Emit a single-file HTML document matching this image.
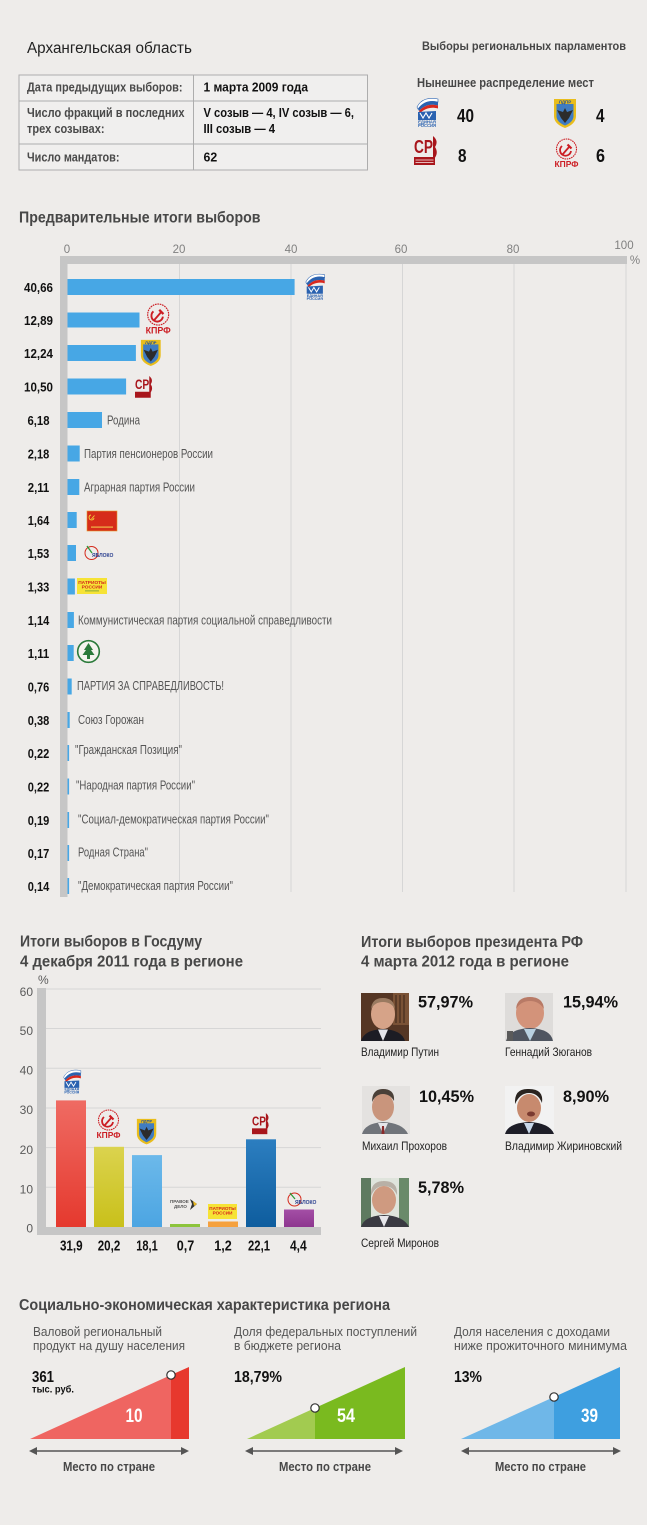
<!DOCTYPE html>
<html><head><meta charset="utf-8">
<style>
html,body{margin:0;padding:0;background:#fff}
svg{display:block}
text{font-family:"Liberation Sans","DejaVu Sans",sans-serif}
.h{font-weight:bold;font-size:16px;fill:#474747}
.l{font-size:12.5px;fill:#555}
.v{font-weight:bold;font-size:13px;fill:#111}
.ax{font-size:11.5px;fill:#808080}
.ty{font-size:12px;fill:#5a5a5a}
.dv{font-weight:bold;font-size:15px;fill:#111}
.pc{font-weight:bold;font-size:17px;fill:#111}
.nm{font-size:12px;fill:#222}
.sub{font-size:13px;fill:#555}
.mp{font-weight:bold;font-size:13px;fill:#474747}
</style></head><body>
<svg width="650" height="1529" viewBox="0 0 650 1529" xmlns="http://www.w3.org/2000/svg">
<defs>
<linearGradient id="g1" x1="0" y1="0" x2="0" y2="1"><stop offset="0" stop-color="#ef6b63"/><stop offset="1" stop-color="#e5392e"/></linearGradient>
<linearGradient id="g2" x1="0" y1="0" x2="0" y2="1"><stop offset="0" stop-color="#dbd34e"/><stop offset="1" stop-color="#c9c01a"/></linearGradient>
<linearGradient id="g3" x1="0" y1="0" x2="0" y2="1"><stop offset="0" stop-color="#6cb9ea"/><stop offset="1" stop-color="#4ca5e2"/></linearGradient>
<linearGradient id="g6" x1="0" y1="0" x2="0" y2="1"><stop offset="0" stop-color="#2c7ec0"/><stop offset="1" stop-color="#0e5d9e"/></linearGradient>
<linearGradient id="g7" x1="0" y1="0" x2="0" y2="1"><stop offset="0" stop-color="#a44fa6"/><stop offset="1" stop-color="#8d368f"/></linearGradient>
</defs>

<rect x="0" y="0" width="647" height="1525" fill="#eeecea"/>

<!-- ============ HEADER ============ -->
<text x="27" y="53" font-size="15.5" fill="#222" textLength="165" lengthAdjust="spacingAndGlyphs">Архангельская область</text>
<text x="422" y="50" font-size="12" font-weight="bold" fill="#464646" textLength="204" lengthAdjust="spacingAndGlyphs">Выборы региональных парламентов</text>

<rect x="19" y="75" width="348.5" height="95" fill="#f0efee" stroke="#adadad" stroke-width="1"/>
<line x1="19" y1="101" x2="367.5" y2="101" stroke="#adadad"/>
<line x1="19" y1="144" x2="367.5" y2="144" stroke="#adadad"/>
<line x1="193.5" y1="75" x2="193.5" y2="170" stroke="#adadad"/>
<g font-size="13">
<text x="27" y="91.5" font-weight="bold" fill="#4a4a4a" textLength="155.5" lengthAdjust="spacingAndGlyphs">Дата предыдущих выборов:</text>
<text x="203.5" y="91.5" font-weight="bold" fill="#111" textLength="104.5" lengthAdjust="spacingAndGlyphs">1 марта 2009 года</text>
<text x="27" y="117" font-weight="bold" fill="#4a4a4a" textLength="157.5" lengthAdjust="spacingAndGlyphs">Число фракций в последних</text>
<text x="27" y="133" font-weight="bold" fill="#4a4a4a" textLength="77.5" lengthAdjust="spacingAndGlyphs">трех созывах:</text>
<text x="203.5" y="117" font-weight="bold" fill="#111" textLength="150.5" lengthAdjust="spacingAndGlyphs">V созыв — 4, IV созыв — 6,</text>
<text x="203.5" y="133" font-weight="bold" fill="#111" textLength="71.5" lengthAdjust="spacingAndGlyphs">III созыв — 4</text>
<text x="27" y="161.5" font-weight="bold" fill="#4a4a4a" textLength="92.5" lengthAdjust="spacingAndGlyphs">Число мандатов:</text>
<text x="203.5" y="161.5" font-weight="bold" fill="#111" textLength="13.7" lengthAdjust="spacingAndGlyphs">62</text>
</g>

<text x="417" y="87" font-size="13" font-weight="bold" fill="#474747" textLength="177" lengthAdjust="spacingAndGlyphs">Нынешнее распределение мест</text>

<!-- ER logo -->
<g transform="translate(415,97)">
<path d="M2,10 C6,2 14,0 23,2 L23,5 C15,3 8,5 3,12 Z" fill="#fff" stroke="#2a62b0" stroke-width="0.6"/>
<path d="M3,12 C8,5 15,3 23,5 L23,8.5 C15,6.5 9,8.5 4,14 Z" fill="#2a62b0"/>
<path d="M4,14 C9,8.5 15,6.5 23,8.5 L23,11.5 C16,9.5 10,11.5 5,16 Z" fill="#d8281e"/>
<path d="M3,15 L21,14 L21,23 L3,23 Z" fill="#2a62b0"/>
<path d="M5,16 L8,21 L11,16 L14,21 L17,16" stroke="#fff" stroke-width="1.1" fill="none"/>
<text x="12" y="26.5" font-size="4.2" font-weight="bold" fill="#2a62b0" text-anchor="middle">ЕДИНАЯ</text>
<text x="12" y="30" font-size="4.2" font-weight="bold" fill="#2a62b0" text-anchor="middle">РОССИЯ</text>
</g>
<text x="457" y="122" font-size="18" font-weight="bold" fill="#111" textLength="17" lengthAdjust="spacingAndGlyphs">40</text>
<!-- LDPR -->
<g transform="translate(553,98)">
<path d="M1,1 H23 V18 Q23,26 12,30 Q1,26 1,18 Z" fill="#e9bd1c"/>
<path d="M3.5,6 H20.5 V18 Q20.5,24 12,27.5 Q3.5,24 3.5,18 Z" fill="#3f7cc2"/>
<path d="M4,12 L10,14 L12,10 L14,14 L20,12 L16,20 L12,25 L8,20 Z" fill="#2c2c2c"/>
<text x="12" y="5.3" font-size="4.5" font-weight="bold" fill="#1d4d9a" text-anchor="middle">ЛДПР</text>
</g>
<text x="596" y="122" font-size="18" font-weight="bold" fill="#111" textLength="8.5" lengthAdjust="spacingAndGlyphs">4</text>
<!-- SR -->
<g transform="translate(414,136)">
<text x="0" y="17" font-size="18" font-weight="bold" fill="#a8161c" textLength="19" lengthAdjust="spacingAndGlyphs">СР</text>
<path d="M19,0 Q25,5 21,11 Q25,17 20,23 L19,23 Z" fill="#a8161c"/>
<rect x="0" y="21" width="21" height="8" fill="#a8161c"/>
<rect x="1.5" y="23.5" width="18" height="1" fill="#e6b8b8"/>
<rect x="1.5" y="26" width="18" height="1" fill="#e6b8b8"/>
</g>
<text x="458" y="162" font-size="18" font-weight="bold" fill="#111" textLength="8.5" lengthAdjust="spacingAndGlyphs">8</text>
<!-- KPRF -->
<g transform="translate(553,138)">
<circle cx="13.5" cy="11" r="10" fill="none" stroke="#cc1e24" stroke-width="1.1" stroke-dasharray="1.6 0.7"/>
<path d="M9,8 A5.5,5.5 0 1 0 18,13" fill="none" stroke="#cc1e24" stroke-width="1.8"/>
<path d="M9.5,16.5 L16.5,8.5" stroke="#cc1e24" stroke-width="1.8"/>
<path d="M14.5,6.5 L18.5,10.5" stroke="#cc1e24" stroke-width="2.2"/>
<text x="13.5" y="29" font-size="8.5" font-weight="bold" fill="#cc1e24" text-anchor="middle" textLength="24" lengthAdjust="spacingAndGlyphs">КПРФ</text>
</g>
<text x="596" y="162" font-size="18" font-weight="bold" fill="#111" textLength="9" lengthAdjust="spacingAndGlyphs">6</text>

<!-- ============ PRELIMINARY RESULTS ============ -->
<text x="19" y="222.5" class="h" font-size="15.5" textLength="241.5" lengthAdjust="spacingAndGlyphs">Предварительные итоги выборов</text>

<g class="ax" text-anchor="middle">
<text x="67" y="253">0</text>
<text x="179" y="253">20</text>
<text x="291" y="253">40</text>
<text x="401" y="253">60</text>
<text x="513" y="253">80</text>
<text x="624" y="249">100</text>
<text x="635" y="264">%</text>
</g>

<g stroke="#d6d6d6" stroke-width="1">
<line x1="179.5" y1="264" x2="179.5" y2="892"/>
<line x1="291" y1="264" x2="291" y2="892"/>
<line x1="402.5" y1="264" x2="402.5" y2="892"/>
<line x1="514" y1="264" x2="514" y2="892"/>
<line x1="626" y1="264" x2="626" y2="892"/>
</g>
<rect x="60" y="256" width="567" height="8" fill="#c6c6c6"/>
<rect x="60" y="256" width="7.5" height="641" fill="#c6c6c6"/>

<g fill="#47a7e5">
<rect x="67.5" y="279" width="227.1" height="16"/>
<rect x="67.5" y="312.5" width="72" height="15"/>
<rect x="67.5" y="345" width="68.4" height="16"/>
<rect x="67.5" y="378.5" width="58.6" height="16"/>
<rect x="67.5" y="412" width="34.5" height="16"/>
<rect x="67.5" y="445.5" width="12.2" height="16"/>
<rect x="67.5" y="479" width="11.8" height="16"/>
<rect x="67.5" y="512" width="9.2" height="16"/>
<rect x="67.5" y="545" width="8.5" height="16"/>
<rect x="67.5" y="578.5" width="7.4" height="16"/>
<rect x="67.5" y="612" width="6.4" height="16"/>
<rect x="67.5" y="645" width="6.2" height="16"/>
<rect x="67.5" y="678.5" width="4.2" height="16"/>
<rect x="67.5" y="712" width="2.2" height="16"/>
<rect x="67.5" y="745" width="1.6" height="16"/>
<rect x="67.5" y="778.5" width="1.6" height="16"/>
<rect x="67.5" y="812" width="1.6" height="16"/>
<rect x="67.5" y="845" width="1.6" height="16"/>
<rect x="67.5" y="878" width="1.6" height="16"/>
</g>

<g class="v" text-anchor="middle">
<text x="38.5" y="292" textLength="29" lengthAdjust="spacingAndGlyphs">40,66</text>
<text x="38.5" y="325" textLength="29" lengthAdjust="spacingAndGlyphs">12,89</text>
<text x="38.5" y="358" textLength="29" lengthAdjust="spacingAndGlyphs">12,24</text>
<text x="38.5" y="391.5" textLength="29" lengthAdjust="spacingAndGlyphs">10,50</text>
<text x="38.5" y="425" textLength="22" lengthAdjust="spacingAndGlyphs">6,18</text>
<text x="38.5" y="458.5" textLength="21.5" lengthAdjust="spacingAndGlyphs">2,18</text>
<text x="38.5" y="492" textLength="21.5" lengthAdjust="spacingAndGlyphs">2,11</text>
<text x="38.5" y="525" textLength="21.5" lengthAdjust="spacingAndGlyphs">1,64</text>
<text x="38.5" y="558" textLength="21.5" lengthAdjust="spacingAndGlyphs">1,53</text>
<text x="38.5" y="591.5" textLength="21.5" lengthAdjust="spacingAndGlyphs">1,33</text>
<text x="38.5" y="625" textLength="21.5" lengthAdjust="spacingAndGlyphs">1,14</text>
<text x="38.5" y="658" textLength="21.5" lengthAdjust="spacingAndGlyphs">1,11</text>
<text x="38.5" y="691.5" textLength="21.5" lengthAdjust="spacingAndGlyphs">0,76</text>
<text x="38.5" y="725" textLength="21.5" lengthAdjust="spacingAndGlyphs">0,38</text>
<text x="38.5" y="758" textLength="21.5" lengthAdjust="spacingAndGlyphs">0,22</text>
<text x="38.5" y="791.5" textLength="21.5" lengthAdjust="spacingAndGlyphs">0,22</text>
<text x="38.5" y="825" textLength="21.5" lengthAdjust="spacingAndGlyphs">0,19</text>
<text x="38.5" y="858" textLength="21.5" lengthAdjust="spacingAndGlyphs">0,17</text>
<text x="38.5" y="891" textLength="21.5" lengthAdjust="spacingAndGlyphs">0,14</text>
</g>

<g class="l">
<text x="107" y="424.5" textLength="33" lengthAdjust="spacingAndGlyphs">Родина</text>
<text x="84" y="458" textLength="129" lengthAdjust="spacingAndGlyphs">Партия пенсионеров России</text>
<text x="84" y="491.5" textLength="111" lengthAdjust="spacingAndGlyphs">Аграрная партия России</text>
<text x="78" y="624.5" textLength="254" lengthAdjust="spacingAndGlyphs">Коммунистическая партия социальной справедливости</text>
<text x="77" y="690" textLength="147" lengthAdjust="spacingAndGlyphs">ПАРТИЯ ЗА СПРАВЕДЛИВОСТЬ!</text>
<text x="78" y="724" textLength="66" lengthAdjust="spacingAndGlyphs">Союз Горожан</text>
<text x="75" y="754" textLength="107" lengthAdjust="spacingAndGlyphs">"Гражданская Позиция"</text>
<text x="76" y="789.5" textLength="119" lengthAdjust="spacingAndGlyphs">"Народная партия России"</text>
<text x="78" y="823.5" textLength="191" lengthAdjust="spacingAndGlyphs">"Социал-демократическая партия России"</text>
<text x="78" y="856.5" textLength="70" lengthAdjust="spacingAndGlyphs">Родная Страна"</text>
<text x="78" y="890" textLength="155" lengthAdjust="spacingAndGlyphs">"Демократическая партия России"</text>
</g>

<g transform="translate(304,273) scale(0.9)">
<path d="M2,10 C6,2 14,0 23,2 L23,5 C15,3 8,5 3,12 Z" fill="#fff" stroke="#2a62b0" stroke-width="0.6"/>
<path d="M3,12 C8,5 15,3 23,5 L23,8.5 C15,6.5 9,8.5 4,14 Z" fill="#2a62b0"/>
<path d="M4,14 C9,8.5 15,6.5 23,8.5 L23,11.5 C16,9.5 10,11.5 5,16 Z" fill="#d8281e"/>
<path d="M3,15 L21,14 L21,23 L3,23 Z" fill="#2a62b0"/>
<path d="M5,16 L8,21 L11,16 L14,21 L17,16" stroke="#fff" stroke-width="1.1" fill="none"/>
<text x="12" y="26.5" font-size="4.2" font-weight="bold" fill="#2a62b0" text-anchor="middle">ЕДИНАЯ</text>
<text x="12" y="30" font-size="4.2" font-weight="bold" fill="#2a62b0" text-anchor="middle">РОССИЯ</text>
</g>
<g transform="translate(144,303) scale(1.05)">
<circle cx="13.5" cy="11" r="10" fill="none" stroke="#cc1e24" stroke-width="1.1" stroke-dasharray="1.6 0.7"/>
<path d="M9,8 A5.5,5.5 0 1 0 18,13" fill="none" stroke="#cc1e24" stroke-width="1.8"/>
<path d="M9.5,16.5 L16.5,8.5" stroke="#cc1e24" stroke-width="1.8"/>
<path d="M14.5,6.5 L18.5,10.5" stroke="#cc1e24" stroke-width="2.2"/>
<text x="13.5" y="29" font-size="8.5" font-weight="bold" fill="#cc1e24" text-anchor="middle" textLength="24" lengthAdjust="spacingAndGlyphs">КПРФ</text>
</g>
<g transform="translate(140,339) scale(0.9)">
<path d="M1,1 H23 V18 Q23,26 12,30 Q1,26 1,18 Z" fill="#e9bd1c"/>
<path d="M3.5,6 H20.5 V18 Q20.5,24 12,27.5 Q3.5,24 3.5,18 Z" fill="#3f7cc2"/>
<path d="M4,12 L10,14 L12,10 L14,14 L20,12 L16,20 L12,25 L8,20 Z" fill="#2c2c2c"/>
<text x="12" y="5.3" font-size="4.5" font-weight="bold" fill="#1d4d9a" text-anchor="middle">ЛДПР</text>
</g>
<g transform="translate(135,376) scale(0.75)">
<text x="0" y="17" font-size="18" font-weight="bold" fill="#a8161c" textLength="19" lengthAdjust="spacingAndGlyphs">СР</text>
<path d="M19,0 Q25,5 21,11 Q25,17 20,23 L19,23 Z" fill="#a8161c"/>
<rect x="0" y="21" width="21" height="8" fill="#a8161c"/>
</g>
<g transform="translate(87,511)">
<rect width="30" height="20" fill="#d62c1a" stroke="#e59a2a" stroke-width="0.6"/>
<path d="M4,4 A2.5,2.5 0 1 0 7,7 M4.5,8 L7.5,4.5" stroke="#f3d23a" stroke-width="0.9" fill="none"/>
<rect x="4" y="15.5" width="22" height="1.2" fill="#f0b94a"/>
</g>
<g transform="translate(84,545)">
<circle cx="7.5" cy="8" r="6.5" fill="none" stroke="#d42a1c" stroke-width="1"/>
<path d="M3,1 L8,8" stroke="#2e9b3a" stroke-width="1.3"/>
<text x="8" y="12" font-size="5" font-weight="bold" fill="#2a3f8f">ЯБЛОКО</text>
</g>
<g transform="translate(77,578)">
<rect width="30" height="16" fill="#f6e336"/>
<text x="15" y="6" font-size="4.8" font-weight="bold" fill="#d4251c" text-anchor="middle">ПАТРИОТЫ</text>
<text x="15" y="10.5" font-size="4.8" font-weight="bold" fill="#d4251c" text-anchor="middle">РОССИИ</text>
<rect x="8" y="12.5" width="14" height="0.8" fill="#6a9a3a"/>
</g>
<g transform="translate(77,640)">
<circle cx="11.5" cy="11.5" r="10.8" fill="#f4f4ee" stroke="#2a7a3a" stroke-width="1.6"/>
<path d="M11.5,3 L16,10 L14,10 L17.5,15 L13,15 L13,19 L10,19 L10,15 L5.5,15 L9,10 L7,10 Z" fill="#2a7a3a"/>
</g>

<!-- ============ DUMA ============ -->
<text x="20" y="946.5" class="h" textLength="182" lengthAdjust="spacingAndGlyphs">Итоги выборов в Госдуму</text>
<text x="20" y="966.5" class="h" textLength="223" lengthAdjust="spacingAndGlyphs">4 декабря 2011 года в регионе</text>

<text x="38" y="984" class="ty" font-size="11">%</text>
<g stroke="#d6d6d6" stroke-width="1">
<line x1="46" y1="989" x2="321" y2="989"/>
<line x1="46" y1="1028.5" x2="321" y2="1028.5"/>
<line x1="46" y1="1068.2" x2="321" y2="1068.2"/>
<line x1="46" y1="1108" x2="321" y2="1108"/>
<line x1="46" y1="1147.6" x2="321" y2="1147.6"/>
<line x1="46" y1="1187.3" x2="321" y2="1187.3"/>
</g>
<g class="ty" text-anchor="end">
<text x="33" y="996">60</text>
<text x="33" y="1035">50</text>
<text x="33" y="1074.5">40</text>
<text x="33" y="1114">30</text>
<text x="33" y="1154">20</text>
<text x="33" y="1193.5">10</text>
<text x="33" y="1232.5">0</text>
</g>
<rect x="37" y="988" width="9" height="247" fill="#c6c6c6"/>
<rect x="37" y="1227" width="284" height="8" fill="#c6c6c6"/>

<rect x="56" y="1100.4" width="30" height="126.6" fill="url(#g1)"/>
<rect x="94" y="1146.8" width="30" height="80.2" fill="url(#g2)"/>
<rect x="132" y="1155.1" width="30" height="71.9" fill="url(#g3)"/>
<rect x="170" y="1224" width="30" height="3" fill="#8cc43c"/>
<rect x="208" y="1221.5" width="30" height="5.5" fill="#f5a13e"/>
<rect x="246" y="1139.3" width="30" height="87.7" fill="url(#g6)"/>
<rect x="284" y="1209.5" width="30" height="17.5" fill="url(#g7)"/>

<g class="dv" text-anchor="middle">
<text x="71.3" y="1250.5" textLength="22.7" lengthAdjust="spacingAndGlyphs">31,9</text>
<text x="109" y="1250.5" textLength="22.5" lengthAdjust="spacingAndGlyphs">20,2</text>
<text x="147" y="1250.5" textLength="21.5" lengthAdjust="spacingAndGlyphs">18,1</text>
<text x="185.5" y="1250.5" textLength="17.5" lengthAdjust="spacingAndGlyphs">0,7</text>
<text x="223" y="1250.5" textLength="17.5" lengthAdjust="spacingAndGlyphs">1,2</text>
<text x="259" y="1250.5" textLength="22" lengthAdjust="spacingAndGlyphs">22,1</text>
<text x="298.3" y="1250.5" textLength="16.7" lengthAdjust="spacingAndGlyphs">4,4</text>
</g>

<g transform="translate(62,1069) scale(0.82)">
<path d="M2,10 C6,2 14,0 23,2 L23,5 C15,3 8,5 3,12 Z" fill="#fff" stroke="#2a62b0" stroke-width="0.6"/>
<path d="M3,12 C8,5 15,3 23,5 L23,8.5 C15,6.5 9,8.5 4,14 Z" fill="#2a62b0"/>
<path d="M4,14 C9,8.5 15,6.5 23,8.5 L23,11.5 C16,9.5 10,11.5 5,16 Z" fill="#d8281e"/>
<path d="M3,15 L21,14 L21,23 L3,23 Z" fill="#2a62b0"/>
<path d="M5,16 L8,21 L11,16 L14,21 L17,16" stroke="#fff" stroke-width="1.1" fill="none"/>
<text x="12" y="26.5" font-size="4.2" font-weight="bold" fill="#2a62b0" text-anchor="middle">ЕДИНАЯ</text>
<text x="12" y="30" font-size="4.2" font-weight="bold" fill="#2a62b0" text-anchor="middle">РОССИЯ</text>
</g>
<g transform="translate(95,1109)">
<circle cx="13.5" cy="11" r="10" fill="none" stroke="#cc1e24" stroke-width="1.1" stroke-dasharray="1.6 0.7"/>
<path d="M9,8 A5.5,5.5 0 1 0 18,13" fill="none" stroke="#cc1e24" stroke-width="1.8"/>
<path d="M9.5,16.5 L16.5,8.5" stroke="#cc1e24" stroke-width="1.8"/>
<path d="M14.5,6.5 L18.5,10.5" stroke="#cc1e24" stroke-width="2.2"/>
<text x="13.5" y="29" font-size="8.5" font-weight="bold" fill="#cc1e24" text-anchor="middle" textLength="24" lengthAdjust="spacingAndGlyphs">КПРФ</text>
</g>
<g transform="translate(136,1118) scale(0.88)">
<path d="M1,1 H23 V18 Q23,26 12,30 Q1,26 1,18 Z" fill="#e9bd1c"/>
<path d="M3.5,6 H20.5 V18 Q20.5,24 12,27.5 Q3.5,24 3.5,18 Z" fill="#3f7cc2"/>
<path d="M4,12 L10,14 L12,10 L14,14 L20,12 L16,20 L12,25 L8,20 Z" fill="#2c2c2c"/>
<text x="12" y="5.3" font-size="4.5" font-weight="bold" fill="#1d4d9a" text-anchor="middle">ЛДПР</text>
</g>
<g transform="translate(170,1198)">
<text x="0" y="5" font-size="4.5" font-weight="bold" fill="#555">ПРАВОЕ</text>
<text x="4" y="10" font-size="4.5" font-weight="bold" fill="#555">ДЕЛО</text>
<path d="M20,1 L27,6 L20,12 L22,6 Z" fill="#333"/>
<path d="M23,3 L27,6 L24,8" fill="#e8b820"/>
</g>
<g transform="translate(208,1204)">
<rect width="29" height="15" fill="#f6e336"/>
<text x="14.5" y="6" font-size="4.6" font-weight="bold" fill="#d4251c" text-anchor="middle">ПАТРИОТЫ</text>
<text x="14.5" y="10.5" font-size="4.6" font-weight="bold" fill="#d4251c" text-anchor="middle">РОССИИ</text>
</g>
<g transform="translate(252,1113) scale(0.73)">
<text x="0" y="17" font-size="18" font-weight="bold" fill="#a8161c" textLength="19" lengthAdjust="spacingAndGlyphs">СР</text>
<path d="M19,0 Q25,5 21,11 Q25,17 20,23 L19,23 Z" fill="#a8161c"/>
<rect x="0" y="21" width="21" height="8" fill="#a8161c"/>
</g>
<g transform="translate(287,1192)">
<circle cx="7.5" cy="7.5" r="6.5" fill="none" stroke="#d42a1c" stroke-width="1"/>
<path d="M3,1 L8,7" stroke="#2e9b3a" stroke-width="1.3"/>
<text x="8" y="12" font-size="5" font-weight="bold" fill="#2a3f8f">ЯБЛОКО</text>
</g>

<!-- ============ PRESIDENT ============ -->
<text x="361" y="947" class="h" textLength="222" lengthAdjust="spacingAndGlyphs">Итоги выборов президента РФ</text>
<text x="361" y="966.5" class="h" textLength="208" lengthAdjust="spacingAndGlyphs">4 марта 2012 года в регионе</text>

<g transform="translate(361,993)">
<rect width="48" height="48" fill="#553624"/>
<rect x="32" y="0" width="16" height="32" fill="#7a5236"/>
<path d="M35,2 V30 M39,2 V30 M43,2 V30" stroke="#3a2418" stroke-width="1"/>
<ellipse cx="22" cy="21" rx="12" ry="15" fill="#d6a388"/>
<path d="M10,16 Q11,5 22,5 Q33,5 34,16 Q30,9 22,9 Q14,9 10,16Z" fill="#9a7a60"/>
<path d="M0,48 Q3,37 22,36 Q41,37 44,48Z" fill="#1c1c24"/>
<path d="M17,36.5 L22,48 L27,36.5Z" fill="#e4e4ea"/>
</g>
<text x="418" y="1007.5" class="pc" textLength="55" lengthAdjust="spacingAndGlyphs">57,97%</text>
<text x="361" y="1056" class="nm" textLength="78" lengthAdjust="spacingAndGlyphs">Владимир Путин</text>

<g transform="translate(505,993)">
<rect width="48" height="48" fill="#dedcda"/>
<ellipse cx="25" cy="20" rx="14" ry="16" fill="#d3937a"/>
<path d="M11,16 Q12,4 25,4 Q38,4 39,16 Q34,8 25,8 Q16,8 11,16Z" fill="#b87a66"/>
<path d="M1,48 Q4,36 25,35 Q46,36 48,48Z" fill="#4f5560"/>
<path d="M19,36 L25,48 L31,36Z" fill="#b8d0e0"/>
<rect x="2" y="38" width="6" height="10" fill="#5a5a5a"/>
</g>
<text x="563" y="1007.5" class="pc" textLength="55" lengthAdjust="spacingAndGlyphs">15,94%</text>
<text x="505" y="1056" class="nm" textLength="87" lengthAdjust="spacingAndGlyphs">Геннадий Зюганов</text>

<g transform="translate(362,1086)">
<rect width="48" height="48" fill="#e4e2e0"/>
<ellipse cx="21" cy="21" rx="11" ry="14" fill="#c9957c"/>
<path d="M10,16 Q10,3 21,3 Q33,3 32,15 Q28,8 21,8 Q14,8 10,16Z" fill="#4a4038"/>
<path d="M0,48 Q3,37 21,36 Q41,37 46,48Z" fill="#70747a"/>
<path d="M16,37 L21,48 L26,37Z" fill="#e6e6ea"/>
<path d="M20,40 L22,40 L22.5,48 L19.5,48Z" fill="#8a2a2a"/>
</g>
<text x="419" y="1102" class="pc" textLength="55" lengthAdjust="spacingAndGlyphs">10,45%</text>
<text x="362" y="1150" class="nm" textLength="85" lengthAdjust="spacingAndGlyphs">Михаил Прохоров</text>

<g transform="translate(505,1086)">
<rect width="49" height="48" fill="#f2f2f2"/>
<ellipse cx="24" cy="22" rx="12" ry="14" fill="#c78a6e"/>
<path d="M10,18 Q9,2 24,3 Q39,3 37,17 Q33,7 24,7 Q15,7 10,18Z" fill="#2a2420"/>
<ellipse cx="26" cy="28" rx="4" ry="2.5" fill="#7a3a30"/>
<path d="M0,48 Q3,37 24,36 Q45,37 49,48Z" fill="#1e1e28"/>
<path d="M19,37 L24,48 L29,37Z" fill="#c8d8ea"/>
</g>
<text x="563" y="1102" class="pc" textLength="46" lengthAdjust="spacingAndGlyphs">8,90%</text>
<text x="505" y="1150" class="nm" textLength="117" lengthAdjust="spacingAndGlyphs">Владимир Жириновский</text>

<g transform="translate(361,1178)">
<rect width="48" height="49" fill="#dfe4dc"/>
<rect x="0" y="0" width="10" height="49" fill="#5e7a60"/>
<rect x="38" y="0" width="10" height="49" fill="#6a8a6a"/>
<ellipse cx="23" cy="22" rx="12" ry="14" fill="#cf9a80"/>
<path d="M10,18 Q9,3 23,3 Q37,3 36,17 Q32,8 23,8 Q14,8 10,18Z" fill="#b8b0a6"/>
<path d="M0,49 Q3,38 23,37 Q43,38 48,49Z" fill="#3a3a42"/>
<path d="M18,38 L23,49 L28,38Z" fill="#e6e6ea"/>
</g>
<text x="418" y="1193" class="pc" textLength="46" lengthAdjust="spacingAndGlyphs">5,78%</text>
<text x="361" y="1247" class="nm" textLength="78" lengthAdjust="spacingAndGlyphs">Сергей Миронов</text>

<!-- ============ SOCIO-ECONOMIC ============ -->
<text x="19" y="1310" class="h" textLength="371" lengthAdjust="spacingAndGlyphs">Социально-экономическая характеристика региона</text>

<text x="33" y="1336" class="sub" textLength="129" lengthAdjust="spacingAndGlyphs">Валовой региональный</text>
<text x="33" y="1350" class="sub" textLength="152" lengthAdjust="spacingAndGlyphs">продукт на душу населения</text>
<text x="234" y="1336" class="sub" textLength="183" lengthAdjust="spacingAndGlyphs">Доля федеральных поступлений</text>
<text x="234" y="1350" class="sub" textLength="107" lengthAdjust="spacingAndGlyphs">в бюджете региона</text>
<text x="454" y="1336" class="sub" textLength="156" lengthAdjust="spacingAndGlyphs">Доля населения с доходами</text>
<text x="454" y="1350" class="sub" textLength="173" lengthAdjust="spacingAndGlyphs">ниже прожиточного минимума</text>

<polygon points="30,1439 171,1375 171,1439" fill="#ef6561"/>
<polygon points="171,1375 189,1367 189,1439 171,1439" fill="#e7382e"/>
<circle cx="171" cy="1375" r="4.2" fill="#fff" stroke="#333" stroke-width="1.2"/>
<text x="134" y="1422" font-size="19" font-weight="bold" fill="#fff" text-anchor="middle" textLength="17" lengthAdjust="spacingAndGlyphs">10</text>
<text x="32" y="1382" font-size="16" font-weight="bold" fill="#111" textLength="22" lengthAdjust="spacingAndGlyphs">361</text>
<text x="32" y="1392.5" font-size="10.5" font-weight="bold" fill="#111" textLength="42" lengthAdjust="spacingAndGlyphs">тыс. руб.</text>

<polygon points="247,1439 315,1408 315,1439" fill="#a2cb50"/>
<polygon points="315,1408 405,1367 405,1439 315,1439" fill="#7aba1f"/>
<circle cx="315" cy="1408" r="4.2" fill="#fff" stroke="#333" stroke-width="1.2"/>
<text x="346" y="1422" font-size="19" font-weight="bold" fill="#fff" text-anchor="middle" textLength="18" lengthAdjust="spacingAndGlyphs">54</text>
<text x="234" y="1382" font-size="16" font-weight="bold" fill="#111" textLength="48" lengthAdjust="spacingAndGlyphs">18,79%</text>

<polygon points="461,1439 554,1397 554,1439" fill="#6fb7e8"/>
<polygon points="554,1397 620,1367 620,1439 554,1439" fill="#3e9fe0"/>
<circle cx="554" cy="1397" r="4.2" fill="#fff" stroke="#333" stroke-width="1.2"/>
<text x="589.5" y="1422" font-size="19" font-weight="bold" fill="#fff" text-anchor="middle" textLength="17" lengthAdjust="spacingAndGlyphs">39</text>
<text x="454" y="1382" font-size="16" font-weight="bold" fill="#111" textLength="28" lengthAdjust="spacingAndGlyphs">13%</text>

<g stroke="#555" stroke-width="1.5">
<line x1="35" y1="1451" x2="183" y2="1451"/>
<line x1="251" y1="1451" x2="397" y2="1451"/>
<line x1="467" y1="1451" x2="615" y2="1451"/>
</g>
<g fill="#555">
<polygon points="29,1451 37,1447 37,1455"/>
<polygon points="189,1451 181,1447 181,1455"/>
<polygon points="245,1451 253,1447 253,1455"/>
<polygon points="403,1451 395,1447 395,1455"/>
<polygon points="461,1451 469,1447 469,1455"/>
<polygon points="621,1451 613,1447 613,1455"/>
</g>
<text x="63" y="1471" class="mp" textLength="92" lengthAdjust="spacingAndGlyphs">Место по стране</text>
<text x="279" y="1471" class="mp" textLength="92" lengthAdjust="spacingAndGlyphs">Место по стране</text>
<text x="495" y="1471" class="mp" textLength="91" lengthAdjust="spacingAndGlyphs">Место по стране</text>
</svg>
</body></html>
